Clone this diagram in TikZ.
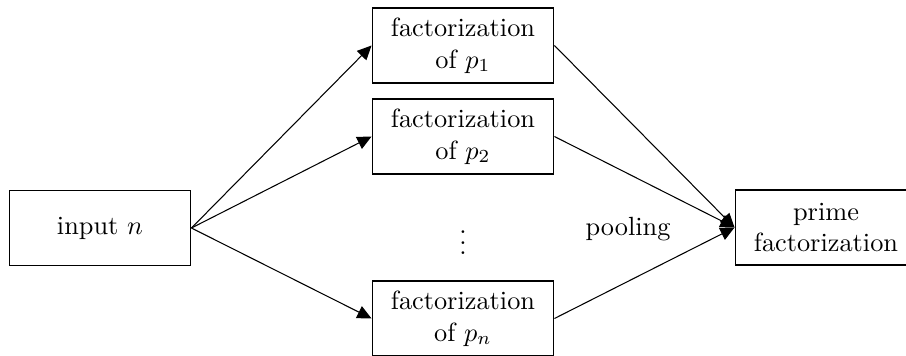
\documentclass[tikz,border=0pt]{standalone}
\usetikzlibrary{arrows.meta}
\begin{document}
\begin{tikzpicture}[x=0.38pt,y=-0.38pt,
  box/.style={draw,line width=0.5pt,minimum width=69pt,minimum height=28.5pt,align=center,inner sep=1pt},
  conn/.style={line width=0.4pt,-{Triangle[length=5.4pt,width=5pt]}}]
\useasboundingbox (0,0) rectangle (906,355);
\node[box] (in) at (100,228) {input $n$};
\node[box] (f1) at (463,45.5) {factorization\\of $p_1$};
\node[box] (f2) at (463,136.5) {factorization\\of $p_2$};
\node[box] (fn) at (463,318.5) {factorization\\of $p_n$};
\node[box] (out) at (826,227.5) {prime\\factorization};
\node (dots) at (463,235) {$\vdots$};
\node (pool) at (628,229) {pooling};
\draw[conn] (in.east) -- (f1.west);
\draw[conn] (in.east) -- (f2.west);
\draw[conn] (in.east) -- (fn.west);
\draw[conn] (f1.east) -- (out.west);
\draw[conn] (f2.east) -- (out.west);
\draw[conn] (fn.east) -- (out.west);
\end{tikzpicture}
\end{document}
